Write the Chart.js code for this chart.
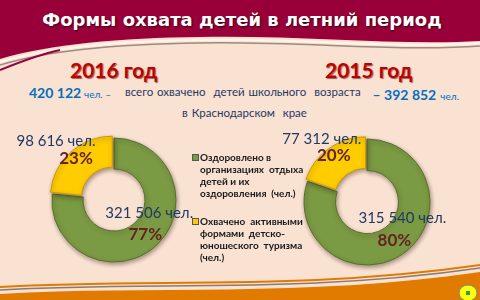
<!DOCTYPE html>
<html>
<head>
<meta charset="utf-8">
<script src="https://cdn.jsdelivr.net/npm/chart.js@4"></script>
<style>
  html, body { margin: 0; padding: 0; }
  body { width: 480px; height: 300px; position: relative; overflow: hidden; background: #fae2d3; font-family: Lato, "Open Sans", sans-serif; }
  #deco { position: absolute; left: 0; top: 0; }
  .abs { position: absolute; white-space: pre; }
  #title { left: 0; width: 484px; top: 9px; text-align: center; color: #fff; font: bold 18px "DejaVu Sans", sans-serif; text-shadow: 1px 1px 2px #3a0015; }
  .year { top: 57px; color: #c00000; font: bold 21px Lato, sans-serif; text-shadow: 1px 1px 1px #8a6a60; }
  .big { color: #0070c0; font: bold 14px Lato, sans-serif; }
  .small { color: #0070c0; font: 10px Lato, sans-serif; }
  .mid { color: #1f3864; font: 11.5px Lato, sans-serif; word-spacing: 1px; }
  .box { position: absolute; height: 180px; }
  .leg { position: absolute; font: bold 10px Lato, sans-serif; color: #1a1a1a; line-height: 12px; z-index: 2; white-space: pre; }
  .leg i { position: absolute; left: -8px; top: 3px; width: 5px; height: 5px; border: 1px solid #555; }
</style>
</head>
<body>
<svg id="deco" width="480" height="300">
  <path d="M0,0 H480 V41 C400,46 300,35 200,37 C120,38 50,44 0,59 Z" fill="#99003a"/>
  <path d="M0,62 C50,47 120,41 200,40 C300,38 400,49 480,43" fill="none" stroke="#fff5e8" stroke-width="2"/>
  <path d="M0,65 C50,50 120,44 200,43 C300,41 400,52 480,46" fill="none" stroke="#9a8a80" stroke-width="1.5"/>
  <path d="M0,70 C30,58 45,53 60,50" fill="none" stroke="#99003a" stroke-width="2"/>
  <path d="M0,294 C150,285 300,298 480,272 V300 H0 Z" fill="#e07b00"/>
  <path d="M0,290 C150,281 300,294 480,268" fill="none" stroke="#8a7a70" stroke-width="1.5"/>
  <path d="M0,287 C150,278 300,291 480,265" fill="none" stroke="#e07b00" stroke-width="2"/>
  <ellipse cx="468" cy="293" rx="9" ry="8" fill="#ffff00" stroke="#6a8a9a" stroke-width="1"/>
  <rect x="466" y="291" width="4" height="4" fill="#2a9a6a"/>
</svg>

<div id="title" class="abs">Формы охвата детей в летний период</div>
<div id="year0" class="abs year" style="left:70px"></div>
<div id="year1" class="abs year" style="left:325px"></div>

<div class="abs big" style="left:29px;top:84px" id="tot0"></div>
<div class="abs small" style="left:84px;top:88px">чел. –</div>
<div class="abs mid" style="left:125px;top:85px">всего охвачено  детей школьного  возраста</div>
<div class="abs" style="right:21px;top:84px"><span class="big" id="tot1"></span> <span class="small">чел.</span></div>
<div class="abs mid" style="left:182px;top:106px">в Краснодарском  крае</div>

<div class="box" style="left:0;top:110px;width:228px"><canvas id="c2016"></canvas></div>
<div class="box" style="left:254px;top:112px;width:226px"><canvas id="c2015"></canvas></div>

<div id="legend"></div>

<script>
const years = ['2016 год', '2015 год'];
const categories = [
  ['Оздоровлено в', 'организациях  отдыха', 'детей и их', 'оздоровления  (чел.)'],
  ['Охвачено  активными', 'формами  детско-', 'юношеского  туризма', '(чел.)']
];
const values2016 = [321506, 98616];
const values2015 = [315540, 77312];
const sliceColors = ['#7a9a43', '#ffcc00'];
const sliceBorders = ['#56702c', '#c89a00'];

function fmt(n) {
  return String(n).replace(/\B(?=(\d{3})+(?!\d))/g, ' ');
}
function sum(a) { return a.reduce((s, v) => s + v, 0); }

document.getElementById('year0').textContent = years[0];
document.getElementById('year1').textContent = years[1];
document.getElementById('tot0').textContent = fmt(sum(values2016));
document.getElementById('tot1').textContent = '– ' + fmt(sum(values2015));

// legend
const legTop = [151, 215];
const legend = document.getElementById('legend');
categories.forEach((lines, i) => {
  const d = document.createElement('div');
  d.className = 'leg';
  d.style.left = '200px';
  d.style.top = legTop[i] + 'px';
  d.innerHTML = '<i style="background:' + sliceColors[i] + '"></i>' + lines.join('\n');
  legend.appendChild(d);
});

// soft shadow under the rings
const ringShadow = {
  id: 'ringShadow',
  beforeDatasetsDraw(chart) {
    const ctx = chart.ctx;
    ctx.save();
    ctx.shadowColor = 'rgba(60,40,20,0.45)';
    ctx.shadowBlur = 4;
    ctx.shadowOffsetX = 1;
    ctx.shadowOffsetY = 2;
  },
  afterDatasetsDraw(chart) {
    chart.ctx.restore();
  }
};

// labels drawn on each slice: value above, percent at slice centre
const sliceLabels = {
  id: 'sliceLabels',
  afterDatasetsDraw(chart, args, opts) {
    const ctx = chart.ctx;
    const ds = chart.data.datasets[0];
    const total = sum(ds.data);
    chart.getDatasetMeta(0).data.forEach((arc, i) => {
      const p = arc.getProps(['x', 'y', 'startAngle', 'endAngle', 'innerRadius', 'outerRadius']);
      const a = (p.startAngle + p.endAngle) / 2;
      const r = (p.innerRadius + p.outerRadius) / 2 + (ds.offset[i] || 0);
      const x = p.x + Math.cos(a) * r;
      const y = p.y + Math.sin(a) * r;
      const nudge = opts.nudge[i];
      ctx.save();
      ctx.textAlign = 'center';
      ctx.textBaseline = 'middle';
      ctx.font = '15px Lato, sans-serif';
      ctx.fillStyle = '#1f3864';
      ctx.fillText(fmt(ds.data[i]) + ' чел.', x + nudge[0], y + nudge[1]);
      ctx.font = 'bold 17px Lato, sans-serif';
      ctx.fillStyle = '#632423';
      ctx.fillText(Math.round(ds.data[i] / total * 100) + '%', x, y);
      ctx.restore();
    });
  }
};

function makeChart(id, values, radius, nudge) {
  new Chart(document.getElementById(id), {
    type: 'doughnut',
    data: {
      labels: categories.map(l => l.join(' ')),
      datasets: [{
        data: values,
        backgroundColor: sliceColors,
        borderColor: sliceBorders,
        borderWidth: 1,
        offset: [0, 10]
      }]
    },
    options: {
      responsive: true,
      maintainAspectRatio: false,
      animation: false,
      radius: radius,
      cutout: '50%',
      plugins: {
        legend: { display: false },
        tooltip: { enabled: false },
        sliceLabels: { nudge: nudge }
      }
    },
    plugins: [ringShadow, sliceLabels]
  });
}

makeChart('c2016', values2016, 62, [[4, -21], [-20, -17]]);
makeChart('c2015', values2015, 63, [[8, -22], [-12, -16]]);
</script>
</body>
</html>
